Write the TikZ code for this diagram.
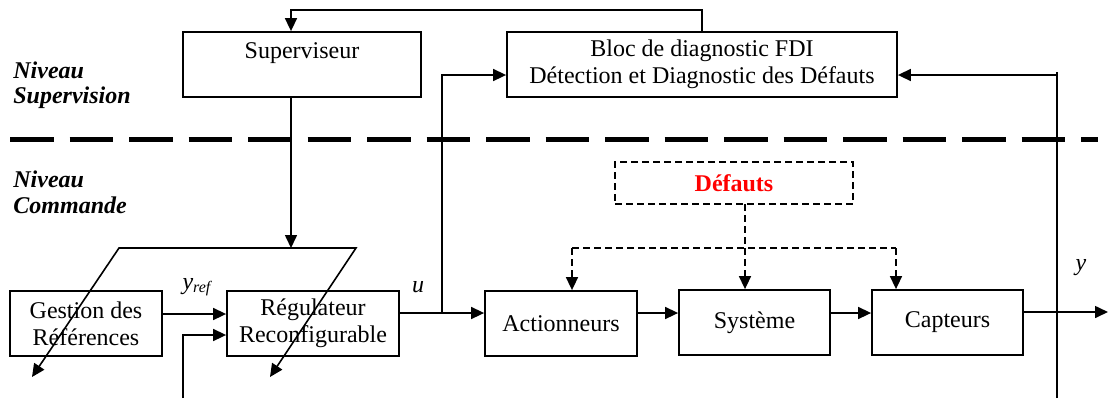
\documentclass[tikz,border=0pt]{standalone}
\usepackage{fontspec}
\setmainfont{Liberation Serif}
\usetikzlibrary{arrows.meta}
\begin{document}
\begin{tikzpicture}[x=0.5pt,y=-0.5pt,
 blk/.style={draw,line width=0.9pt,align=center,inner sep=0pt,font=\fontsize{12}{13.5}\selectfont},
 conn/.style={line width=0.8pt,-{Triangle[length=6.5pt,width=6pt]}},
 ln/.style={line width=0.8pt},
 dsh/.style={line width=0.8pt,dash pattern=on 3.5pt off 2pt},
 lvl/.style={font=\fontsize{12}{13.5}\selectfont\bfseries\itshape,anchor=base west,inner sep=0pt},
 lbl/.style={font=\fontsize{12}{13.5}\selectfont\itshape,inner sep=0pt}]
\useasboundingbox (0,0) rectangle (1109,398);

% level separator
\draw[line width=2.5pt,dash pattern=on 21.75pt off 8pt] (10,139) -- (1098,139);

% level labels
\node[lvl] (n1) at (13,78) {Niveau};
\node[lvl] (n2) at (13,103) {Supervision};
\node[lvl] (n3) at (13,187) {Niveau};
\node[lvl] (n4) at (13,213) {Commande};

% blocks
\node[blk,minimum width=119pt,minimum height=32.5pt] (sup) at (302,64.5) {Superviseur\\\mbox{}};
\node[blk,minimum width=195pt,minimum height=32.5pt] (fdi) at (702,64.5) {Bloc de diagnostic FDI\\D\'etection et Diagnostic des D\'efauts};
\node[blk,minimum width=76pt,minimum height=32.5pt] (gest) at (86,323.5) {Gestion des\\R\'ef\'erences};
\node[blk,minimum width=86pt,minimum height=32.5pt] (reg) at (313,323.5) {R\'egulateur\\Reconfigurable};
\node[blk,minimum width=76pt,minimum height=32.5pt] (act) at (561,323.5) {Actionneurs};
\node[blk,minimum width=75.5pt,minimum height=32.5pt] (systm) at (754.5,322.5) {Syst\`eme};
\node[blk,minimum width=75.5pt,minimum height=32.5pt] (capt) at (947.5,322.5) {Capteurs};
\node[blk,dsh,minimum width=119pt,minimum height=21pt,text=red,font=\fontsize{12}{13.5}\selectfont\bfseries] (def) at (734,183) {D\'efauts};

% supervision loop
\coordinate (t1) at (291,10);
\draw[conn] (fdi.north) |- (t1) -- (t1 |- sup.north);
\coordinate (pt) at (291,248);
\draw[conn] (t1 |- sup.south) -- (pt);

% reconfiguration parallelogram
\coordinate (pA) at (32,377);
\coordinate (pB) at (119,248);
\coordinate (pC) at (356,248);
\coordinate (pD) at (270,377);
\draw[ln,{Triangle[length=6.5pt,width=6pt]}-{Triangle[length=6.5pt,width=6pt]}] (pA) -- (pB) -- (pC) -- (pD);

% control chain
\coordinate (yr) at (0,314);
\draw[conn] (gest.east |- yr) -- (reg.west |- yr);
\node[lbl] (yref) at (197,287) {y\textsubscript{\itshape ref}};
\coordinate (fb) at (183,398);
\coordinate (fbl) at (0,335);
\draw[conn] (fb) |- (reg.west |- fbl);
\coordinate (ul) at (0,313);
\coordinate (uj) at (442,313);
\draw[conn] (reg.east |- ul) -- (act.west |- ul);
\node[lbl] (ulab) at (418,287) {u};
\coordinate (fl) at (0,75);
\draw[conn] (uj) |- (fdi.west |- fl);
\draw[conn] (act.east |- ul) -- (systm.west |- ul);
\draw[conn] (systm.east |- ul) -- (capt.west |- ul);
\coordinate (yo) at (1108,312);
\draw[conn] (capt.east |- yo) -- (yo);
\node[lbl] (ylab) at (1081,268) {y};

% measurement feedback to FDI
\coordinate (r1) at (1057,398);
\coordinate (r2) at (1057,72);
\coordinate (r3) at (1057,75);
\draw[ln] (r1) -- (r2);
\draw[conn] (r3) -- (fdi.east |- r3);

% faults
\coordinate (d1) at (745,204);
\coordinate (dl) at (572,248);
\coordinate (dr) at (896,248);
\draw[dsh,-{Triangle[length=6.5pt,width=6pt]}] (d1) -- (d1 |- systm.north);
\draw[dsh] (dl) -- (dr);
\draw[dsh,-{Triangle[length=6.5pt,width=6pt]}] (dl) -- (dl |- act.north);
\draw[dsh,-{Triangle[length=6.5pt,width=6pt]}] (dr) -- (dr |- capt.north);
\end{tikzpicture}
\end{document}
